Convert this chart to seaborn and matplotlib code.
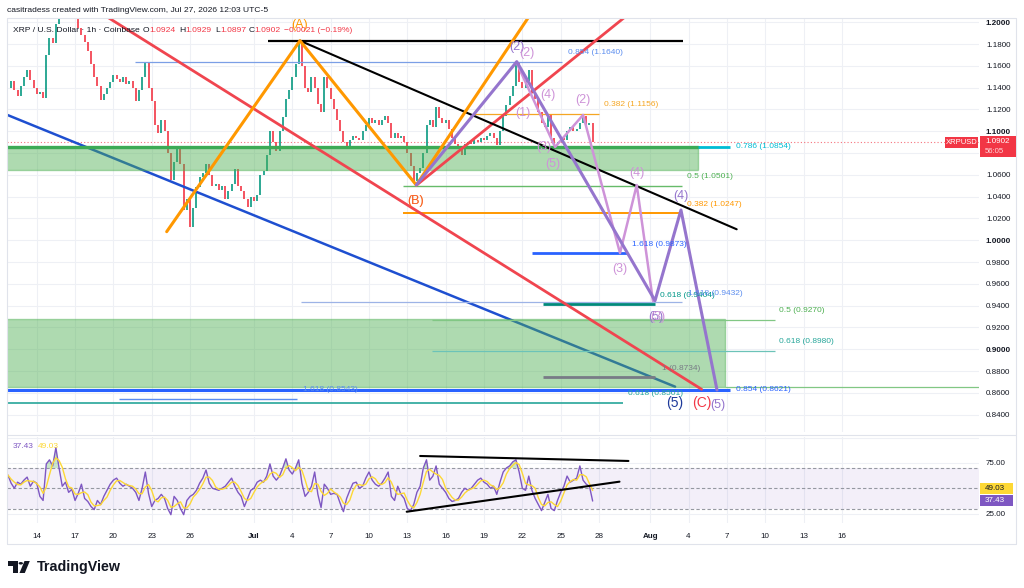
import numpy as np
import pandas as pd
import matplotlib
matplotlib.use("Agg")
import matplotlib.pyplot as plt
import seaborn as sns
from matplotlib.patches import Rectangle, Polygon, Circle
from matplotlib.lines import Line2D

# ---------------- data ----------------
FIRST_DAY = -2.25          # days after Jun 14 00:00, 6-hour samples
STEP_DAYS = 0.25

close_prices = [
    1.140, 1.146, 1.138, 1.132, 1.142, 1.150, 1.156, 1.147, 1.140,
    1.134, 1.136, 1.131, 1.170,   1.186, 1.181, 1.198, 1.205,
    1.210, 1.212, 1.207, 1.203,   1.205, 1.195, 1.188, 1.182,
    1.174, 1.162, 1.150, 1.142,   1.129, 1.134, 1.140, 1.145,
    1.152, 1.148, 1.145, 1.150,   1.143, 1.146, 1.140, 1.128,
    1.138, 1.150, 1.163, 1.140,   1.128, 1.106, 1.098, 1.110,
    1.100, 1.080, 1.055, 1.072,   1.086, 1.070, 1.028, 1.038,
    1.012, 1.030, 1.049, 1.058,   1.062, 1.070, 1.060, 1.050,
    1.052, 1.046, 1.050, 1.038,   1.045, 1.052, 1.065, 1.050,
    1.045, 1.038, 1.031, 1.040,   1.036, 1.042, 1.060, 1.064,
    1.078, 1.100, 1.090, 1.082,   1.100, 1.113, 1.130, 1.138,
    1.150, 1.162, 1.183, 1.160,   1.140, 1.136, 1.150, 1.140,
    1.125, 1.118, 1.150, 1.140,   1.130, 1.120, 1.110, 1.100,
    1.090, 1.086, 1.092, 1.096,   1.094, 1.092, 1.100, 1.106,
    1.112, 1.108, 1.110, 1.106,   1.110, 1.114, 1.108, 1.094,
    1.098, 1.094, 1.096, 1.090,   1.080, 1.068, 1.054, 1.062,
    1.066, 1.080, 1.106, 1.110,   1.104, 1.122, 1.112, 1.108,
    1.110, 1.102, 1.094, 1.088,   1.084, 1.078, 1.088, 1.090,
    1.088, 1.092, 1.090, 1.094,   1.092, 1.096, 1.098, 1.094,
    1.087, 1.100, 1.114, 1.124,   1.132, 1.142, 1.163, 1.145,
    1.140, 1.146, 1.156, 1.136,   1.130, 1.118, 1.108, 1.104,
    1.116, 1.094, 1.088, 1.090,   1.094, 1.092, 1.100, 1.104,
    1.100, 1.102, 1.108, 1.114,   1.106, 1.108, 1.0902,
]

rsi_values = [
    63, 55, 50, 56, 54, 58, 61, 52, 57,
    55, 42, 38, 74,   78, 72, 90, 70,   52, 56, 46, 49,   38, 45, 54, 40,
    37, 32, 29, 38,   34, 42, 48, 54,   58, 60, 55, 52,   54, 52, 50, 46,
    38, 50, 66, 45,   32, 38, 40, 44,   40, 30, 24, 42,   38, 30, 24, 38,
    42, 44, 48, 55,   60, 68, 55, 50,   49, 48, 50, 52,   56, 60, 52, 46,
    42, 32, 40, 48,   50, 56, 58, 56,   62, 74, 62, 58,   62, 70, 79, 68,
    64, 70, 78, 55,   42, 46, 52, 66,   44, 31, 54, 50,   44, 45, 44, 35,
    27, 40, 48, 55,   56, 50, 52, 60,   66, 58, 54, 52,   55, 60, 66, 42,
    38, 52, 44, 40,   30, 28, 34, 46,   52, 70, 78, 58,   62, 72, 54, 50,
    46, 40, 37, 38,   40, 46, 50, 48,   50, 54, 58, 60,   56, 54, 50, 52,
    44, 56, 66, 70,   72, 76, 78, 66,   50, 48, 62, 48,   40, 34, 28, 36,
    44, 30, 28, 38,   46, 52, 62, 56,   58, 60, 72, 58,   54, 52, 37.43,
]

tick_days = [0, 3, 6, 9, 12, 17, 20, 23, 26, 29, 32, 35, 38, 41, 44, 48, 51, 54, 57, 60, 63]
tick_labels = ["14", "17", "20", "23", "26", "Jul", "4", "7", "10", "13", "16",
               "19", "22", "25", "28", "Aug", "4", "7", "10", "13", "16"]
price_ticks = [0.84, 0.86, 0.88, 0.90, 0.92, 0.94, 0.96, 0.98, 1.00, 1.02,
               1.04, 1.06, 1.08, 1.10, 1.12, 1.14, 1.16, 1.18, 1.20]
hidden_price_tick = 1.08      # covered by the last-price box in the reference
rsi_ticks = [25, 75]

last_price = 1.0902
rsi_last = 37.43
rsi_ma_last = 49.03
header_ohlc = ["1.0924", "1.0929", "1.0897", "1.0902"]
header_change = "\u22120.0021 (\u22120.19%)"

# drawings (day, price)
orange_wave_days = [10.17, 20.60, 29.70, 38.6]
orange_wave_prices = [1.0079, 1.1831, 1.0507, 1.2067]
purple_wave_days = [29.70, 37.56, 48.38, 50.41, 53.23]
purple_wave_prices = [1.0507, 1.1639, 0.9446, 1.0278, 0.8627]
lilac_wave_days = [37.56, 40.56, 42.75, 45.64, 46.95, 48.22]
lilac_wave_prices = [1.1627, 1.0856, 1.1150, 0.9883, 1.0507, 0.9443]
black_diag_days = [20.60, 54.77]
black_diag_prices = [1.1831, 1.0101]
red_down_days = [5.35, 52.03]
red_down_prices = [1.2061, 0.8633]
red_up_days = [29.73, 47.2]
red_up_prices = [1.0507, 1.2159]
blue_diag_days = [-2.4, 49.95]
blue_diag_prices = [1.1155, 0.8657]

# horizontal levels: price, start day, end day
level_prices = [1.1831, 1.1639, 1.1156, 1.0859, 1.0501, 1.0253, 0.9881, 0.9437,
                0.9416, 0.9270, 0.8984, 0.8743, 0.8655, 0.8627, 0.8547, 0.8510]
level_starts = [18.1, 7.69, 34.1, 51.75, 28.66, 28.66, 38.76, 20.68,
                39.62, 30.93, 30.93, 39.62, 53.86, -3.0, 6.45, -3.0]
level_ends = [50.6, 41.08, 44.0, 54.25, 50.5, 50.34, 46.2, 50.5,
              48.38, 57.8, 57.8, 48.38, 80.0, 54.25, 20.37, 45.9]

# zones: low price, high price, end day
zone_lows = [1.0645, 0.8657]
zone_highs = [1.0859, 0.9275]
zone_ends = [51.75, 53.86]

fib_texts = ["0.854 (1.1640)", "0.382 (1.1156)", "0.786 (1.0854)", "0.5 (1.0501)",
             "0.382 (1.0247)", "1.618 (0.9873)", "0.618 (0.9404)", "1.618 (0.9432)",
             "0.5 (0.9270)", "0.618 (0.8980)", "1 (0.8734)", "0.854 (0.8621)",
             "0.618 (0.8501)", "1.618 (0.8543)"]
fib_text_days = [41.57, 44.39, 54.69, 50.86, 50.91, 46.56, 48.77, 50.99,
                 58.1, 58.1, 48.9, 54.72, 46.29, 20.86]
fib_text_prices = [1.1721, 1.1244, 1.0859, 1.0583, 1.0333, 0.9957, 0.9498, 0.9514,
                   0.9360, 0.9070, 0.8826, 0.8627, 0.8590, 0.8627]

wave_texts = ["(A)", "(B)", "(B)", "(2)", "(2)", "(1)", "(4)", "(3)", "(5)", "(2)",
              "(4)", "(4)", "(3)", "(5)", "(3)", "(5)", "(C)", "(5)"]
wave_text_days = [20.6, 29.68, 29.68, 37.58, 38.37, 38.05, 40.0, 39.64, 40.4, 42.74,
                  46.95, 50.41, 45.64, 48.45, 48.62, 49.95, 52.03, 53.26]
wave_text_prices = [1.1975, 1.036, 1.036, 1.1773, 1.1718, 1.1167, 1.1333, 1.0853, 1.0699,
                    1.1287, 1.0614, 1.0409, 0.9734, 0.9299, 0.9299, 0.8505, 0.8505, 0.8489]

rsi_upper_days = [30.0, 46.3]
rsi_upper_vals = [81.8, 76.9]
rsi_lower_days = [28.95, 45.6]
rsi_lower_vals = [26.9, 56.5]

# ---------------- styles ----------------
UP, DOWN = "#089981", "#F23645"
GRID = "#EEF0F5"
TXT = "#131722"
level_colors = ["#000000", "#7B9FE6", "#F5A623", "#00BCD4", "#66BB6A", "#FF9800",
                "#2962FF", "#9DB3E6", "#00897B", "#81C784", "#6CC3B8", "#787B86",
                "#81C784", "#2962FF", "#5B8DEF", "#26A69A"]
level_widths = [1.6, 0.9, 0.9, 2.0, 1.0, 1.4, 2.0, 0.9, 2.0, 0.9, 0.9, 2.0, 0.9, 2.2, 1.0, 1.2]
fib_colors = ["#5B8DEF", "#F5A623", "#00BCD4", "#4CAF50", "#FF9800", "#2962FF", "#009688",
              "#5B8DEF", "#4CAF50", "#26A69A", "#787B86", "#2962FF", "#26A69A", "#5B8DEF"]
wave_colors = ["#FF9800", "#FF9800", "#F2364599", "#9575CD", "#CE93D8", "#CE93D8", "#CE93D8",
               "#CE93D8", "#CE93D8", "#CE93D8", "#CE93D8", "#9575CD", "#CE93D8", "#9575CD",
               "#CE93D8", "#1E3A9A", "#F23645", "#9575CD"]

sns.set_theme(style="white")
plt.rcParams["font.family"] = ["Liberation Sans", "DejaVu Sans"]

W, H = 1024, 588
fig = plt.figure(figsize=(W / 100, H / 100), dpi=100)


def fx(x):
    return x / W


def fy(y):
    return 1 - y / H


ax = fig.add_axes([fx(7), fy(432), (979 - 7) / W, (432 - 18) / H])
axr = fig.add_axes([fx(7), fy(523), (979 - 7) / W, (523 - 437) / H], sharex=ax)

days = FIRST_DAY + STEP_DAYS * np.arange(len(close_prices))
close = np.array(close_prices)
opens = np.r_[close[0], close[:-1]]
up = close >= opens

ax.set_xlim(-2.324, 73.73)
ax.set_ylim(0.82413, 1.20394)
axr.set_ylim(15.8, 100.5)

for t in tick_days:
    ax.axvline(t, color=GRID, lw=0.8, zorder=0)
    axr.axvline(t, color=GRID, lw=0.8, zorder=0)
for p in price_ticks:
    ax.axhline(p, color=GRID, lw=0.8, zorder=0)
for v in [25, 75, 100]:
    axr.axhline(v, color=GRID, lw=0.8, zorder=0)

# candles
ax.vlines(days[up], opens[up], close[up], color=UP, lw=1.2, zorder=3)
ax.vlines(days[~up], opens[~up], close[~up], color=DOWN, lw=1.2, zorder=3)
ax.axhline(last_price, color=DOWN, lw=0.8, ls=(0, (1, 2)), alpha=0.7, zorder=2)

# zones
for lo, hi, e in zip(zone_lows, zone_highs, zone_ends):
    ax.add_patch(Rectangle((-3, lo), e + 3, hi - lo, facecolor="#4CAF50", alpha=0.45,
                           edgecolor="#4CAF50", lw=1.0, zorder=4))
ax.plot([-3, zone_ends[0]], [zone_highs[0], zone_highs[0]], color="#3DAA55", lw=2.4, zorder=5)

# horizontal levels
for p, s, e, c, w in zip(level_prices, level_starts, level_ends, level_colors, level_widths):
    ax.plot([s, e], [p, p], color=c, lw=w, zorder=5, solid_capstyle="butt")

# diagonals
ax.plot(blue_diag_days, blue_diag_prices, color="#1E4FD0", lw=1.8, zorder=3.5)
ax.plot(red_down_days, red_down_prices, color="#F0454F", lw=2.0, zorder=6)
ax.plot(red_up_days, red_up_prices, color="#F0454F", lw=2.0, zorder=6)
ax.plot(black_diag_days, black_diag_prices, color="#000000", lw=1.5, zorder=6)
ax.plot(orange_wave_days, orange_wave_prices, color="#FF9800", lw=2.2, zorder=6)
ax.plot(lilac_wave_days, lilac_wave_prices, color="#CE93D8", lw=1.8, zorder=6)
ax.plot(purple_wave_days, purple_wave_prices, color="#9575CD", lw=2.2, zorder=6)

for t, d, p, c in zip(fib_texts, fib_text_days, fib_text_prices, fib_colors):
    ax.text(d, p, t, color=c, fontsize=6, ha="left", va="center", zorder=7)
for t, d, p, c in zip(wave_texts, wave_text_days, wave_text_prices, wave_colors):
    fs = 10 if c in ("#1E3A9A", "#F23645") else 9
    ax.text(d, p, t, color=c, fontsize=fs, ha="center", va="center", zorder=7)

# RSI pane
rsi = pd.Series(rsi_values, index=days)
rsi_ma = rsi.rolling(3, min_periods=1).mean()
axr.axhspan(30, 70, color="#7E57C2", alpha=0.09, lw=0, zorder=0.5)
for v in (30, 50, 70):
    axr.axhline(v, color="#9598A1", lw=0.8, ls=(0, (3, 2)), zorder=1)
axr.fill_between(days, 70, rsi.values, where=rsi.values > 70, interpolate=True,
                 color="#4CAF50", alpha=0.3, lw=0, zorder=1.5)
sns.lineplot(x=days, y=rsi.values, ax=axr, color="#7E57C2", lw=1.0, zorder=3)
sns.lineplot(x=days, y=rsi_ma.values, ax=axr, color="#FDD835", lw=1.0, zorder=4)
axr.plot(rsi_upper_days, rsi_upper_vals, color="black", lw=1.5, zorder=5)
axr.plot(rsi_lower_days, rsi_lower_vals, color="black", lw=1.5, zorder=5)
axr.text(-1.9, 91, f"{rsi_last:.2f}", color="#7E57C2", fontsize=6, va="center", ha="left")
axr.text(0.1, 91, f"{rsi_ma_last:.2f}", color="#FDD835", fontsize=6, va="center", ha="left")

# axes / ticks
for a in (ax, axr):
    for s in a.spines.values():
        s.set_visible(False)
    a.set_xlabel("")
    a.set_ylabel("")
    a.yaxis.tick_right()

ax.set_yticks(price_ticks)
ax.set_yticklabels(["" if abs(p - hidden_price_tick) < 1e-9 else f"{p:.4f}" for p in price_ticks])
ax.tick_params(axis="y", length=0, pad=5, labelsize=5.8, labelcolor=TXT)
ax.tick_params(axis="x", bottom=False, labelbottom=False)
for lbl, v in zip(ax.get_yticklabels(), price_ticks):
    if abs(v * 10 - round(v * 10)) < 1e-6:
        lbl.set_fontweight("bold")

axr.set_yticks(rsi_ticks)
axr.set_yticklabels([f"{v:.2f}" for v in rsi_ticks])
axr.tick_params(axis="y", length=0, pad=5, labelsize=5.8, labelcolor=TXT)
axr.set_xticks(tick_days)
axr.set_xticklabels(tick_labels)
axr.tick_params(axis="x", length=0, pad=7, labelsize=5.8, labelcolor=TXT)
for lbl in axr.get_xticklabels():
    if lbl.get_text() in ("Jul", "Aug"):
        lbl.set_fontweight("bold")
axr.set_xlim(-2.324, 73.73)

# frame lines
FR = "#E0E3EB"
for (x0, y0, x1, y1) in [(7, 18, 1016, 18), (7, 544, 1016, 544), (7, 18, 7, 544),
                         (1016, 18, 1016, 544), (7, 434.5, 1016, 434.5)]:
    fig.add_artist(Line2D([fx(x0), fx(x1)], [fy(y0), fy(y1)], color=FR, lw=0.8))

# header
fig.text(fx(7), fy(10.5), "casitradess created with TradingView.com, Jul 27, 2026 12:03 UTC-5",
         fontsize=6.1, color=TXT, va="center", ha="left")
parts = [(13, "XRP / U.S. Dollar \u00b7 1h \u00b7 Coinbase", TXT), (143, "O", TXT),
         (149, header_ohlc[0], DOWN), (179, "H", TXT), (185, header_ohlc[1], DOWN),
         (215, "L", TXT), (220, header_ohlc[2], DOWN), (249, "C", TXT),
         (254, header_ohlc[3], DOWN), (284, header_change, DOWN)]
for x, t, c in parts:
    fig.text(fx(x), fy(31), t, fontsize=6.1, color=c, va="center", ha="left")

# price labels on the scale
fig.add_artist(Rectangle((fx(945), fy(148)), 33 / W, 11 / H, transform=fig.transFigure,
                         facecolor=DOWN, edgecolor="none", zorder=5))
fig.text(fx(961.5), fy(142.5), "XRPUSD", fontsize=5.5, color="white", ha="center", va="center", zorder=6)
fig.add_artist(Rectangle((fx(980), fy(157)), 36 / W, 21 / H, transform=fig.transFigure,
                         facecolor=DOWN, edgecolor="none", zorder=5))
fig.text(fx(985), fy(142), f"{last_price:.4f}", fontsize=5.8, color="white", ha="left", va="center", zorder=6)
fig.text(fx(985), fy(151.5), "56:05", fontsize=5.6, color="#FFD6D9", ha="left", va="center", zorder=6)

fig.add_artist(Rectangle((fx(980), fy(494)), 33 / W, 11 / H, transform=fig.transFigure,
                         facecolor="#FDD835", edgecolor="none", zorder=5))
fig.text(fx(985), fy(488.5), f"{rsi_ma_last:.2f}", fontsize=5.8, color=TXT, ha="left", va="center", zorder=6)
fig.add_artist(Rectangle((fx(980), fy(506)), 33 / W, 11 / H, transform=fig.transFigure,
                         facecolor="#7E57C2", edgecolor="none", zorder=5))
fig.text(fx(985), fy(500.5), f"{rsi_last:.2f}", fontsize=5.8, color="white", ha="left", va="center", zorder=6)

# TradingView logo
fig.add_artist(Rectangle((fx(8.3), fy(565.5)), 9.7 / W, 4.5 / H, transform=fig.transFigure,
                         facecolor=TXT, edgecolor="none"))
fig.add_artist(Rectangle((fx(13), fy(573)), 5 / W, 12 / H, transform=fig.transFigure,
                         facecolor=TXT, edgecolor="none"))
fig.add_artist(Circle((fx(20.8), fy(563.3)), 2.2 / W, transform=fig.transFigure,
                      facecolor=TXT, edgecolor="none"))
fig.add_artist(Polygon([(fx(24.5), fy(561)), (fx(29.8), fy(561)), (fx(24.8), fy(573)),
                        (fx(19.5), fy(573))], closed=True, transform=fig.transFigure,
                       facecolor=TXT, edgecolor="none"))
fig.text(fx(36.5), fy(567), "TradingView", fontsize=10.3, fontweight="bold", color=TXT,
         ha="left", va="center")

fig.savefig("out.png", dpi=100)
